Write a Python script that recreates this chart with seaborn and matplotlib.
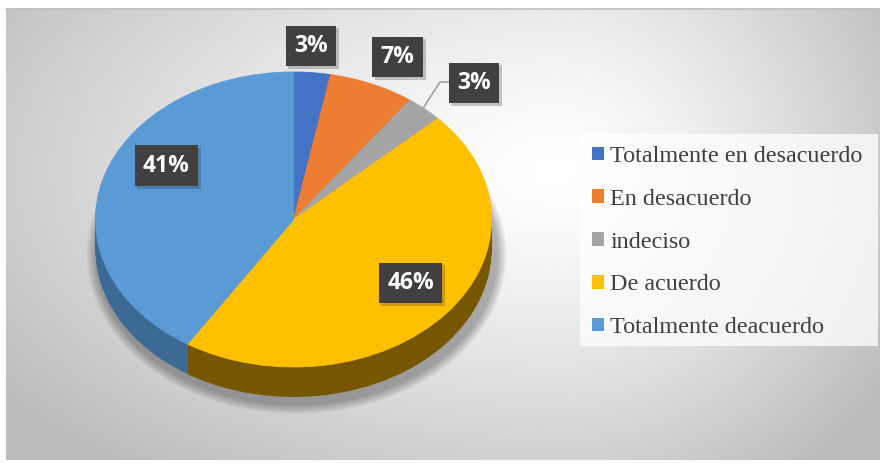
import numpy as np
import matplotlib
matplotlib.use("Agg")
import matplotlib.pyplot as plt
import matplotlib.patheffects as pe
from matplotlib.patches import Patch, Rectangle, Ellipse
from matplotlib.transforms import Affine2D
import seaborn as sns

# data
categories = ["Totalmente en desacuerdo", "En desacuerdo", "indeciso",
              "De acuerdo", "Totalmente deacuerdo"]
percentages = [3, 7, 3, 46, 41]
pct_labels = ["3%", "7%", "3%", "46%", "41%"]

colors = ["#4472C4", "#ED7D31", "#A5A5A5", "#FFC000", "#5B9BD5"]
rim_colors = ["#2f5190", "#a85520", "#6e6e6e", "#775600", "#3d6a95"]

# layout (pixel coordinates, y down)
W, H = 880, 466
cx, cy, R = 293.5, 219.5, 198
squash = 147.5 / 198
depth = 30
label_xy = [(311, 46), (397.5, 57), (474, 83), (410.5, 283), (166.5, 165.5)]

sns.set_theme(style="white")
fig = plt.figure(figsize=(W / 100, H / 100), dpi=100)
ax = fig.add_axes([0, 0, 1, 1])

# chart area background, soft radial gradient
xs = np.linspace(6, 880, 400)
ys = np.linspace(8, 460, 220)
gx, gy = np.meshgrid(xs, ys)
sx = np.where(gx > 560, 340, 600)
d = np.sqrt(((gx - 560) / sx) ** 2 + ((gy - 170) / 330) ** 2)
bg = 1 - 0.22 * np.clip(d, 0, 1.15) ** 1.3
ax.imshow(bg, cmap="gray", vmin=0, vmax=1, extent=[6, 880, 460, 8],
          aspect="auto", zorder=0, interpolation="bilinear")
ax.plot([6, 880], [8.5, 8.5], color="#c0c0c0", lw=1.2, zorder=1)

# soft shadow under the pie
for i in range(10):
    grow = 24 - 2 * i
    ax.add_patch(Ellipse((cx + 3, cy + depth + 5), 2 * R + grow, 2 * R * squash + grow,
                         facecolor="black", alpha=0.032, lw=0, zorder=1))


def squash_tf(dz):
    return (Affine2D().translate(-cx, -cy).scale(1, -squash)
            .translate(cx, cy + dz) + ax.transData)


# side of the 3D pie: stacked darker pies
for dz in range(depth, 0, -1):
    wedges, _ = ax.pie(percentages, colors=rim_colors, startangle=90,
                       counterclock=False, center=(cx, cy), radius=R,
                       wedgeprops=dict(linewidth=0))
    for w in wedges:
        w.set_transform(squash_tf(dz))
        w.set_zorder(2)

# top face
wedges, _ = ax.pie(percentages, colors=colors, startangle=90,
                   counterclock=False, center=(cx, cy), radius=R,
                   wedgeprops=dict(linewidth=0.6))
for w, c in zip(wedges, colors):
    w.set_edgecolor(c)
    w.set_transform(squash_tf(0))
    w.set_zorder(3)

# leader line for the small grey slice
cum = np.cumsum(percentages)
mid = cum[2] - percentages[2] / 2
ang = np.deg2rad(90 - 360 * mid / 100)
ex, ey = cx + 0.97 * R * np.cos(ang), cy - 0.97 * R * squash * np.sin(ang)
lx, ly = label_xy[2]
ax.plot([lx - 25, lx - 34, ex], [ly - 1, ly - 1, ey], color="#a6a6a6", lw=1.3, zorder=4)

# data labels
for (tx, ty), txt in zip(label_xy, pct_labels):
    t = ax.text(tx, ty, txt, ha="center", va="center", color="white",
                fontsize=16.5, fontweight="bold", family="Open Sans", zorder=6,
                bbox=dict(boxstyle="square,pad=0.37", facecolor="#404040",
                          edgecolor="none"))
    t.get_bbox_patch().set_path_effects(
        [pe.SimplePatchShadow(offset=(2, -2), alpha=0.22), pe.Normal()])

# legend box and legend
ax.add_patch(Rectangle((580, 134), 298, 212, facecolor="white", alpha=0.75,
                       lw=0, zorder=4))
handles = [Patch(facecolor=c, edgecolor="none") for c in colors]
ax.legend(handles, categories, loc="upper left", bbox_to_anchor=(592, 146),
          bbox_transform=ax.transData, frameon=False, borderpad=0,
          borderaxespad=0, handlelength=0.5, handleheight=0.5,
          handletextpad=0.25, labelspacing=0.9,
          prop=dict(family="Liberation Serif", size=17.4), labelcolor="#404040")

ax.set_aspect("auto")
ax.set_xlim(0, W)
ax.set_ylim(H, 0)
ax.axis("off")

fig.savefig("out.png", dpi=100, facecolor="white")
